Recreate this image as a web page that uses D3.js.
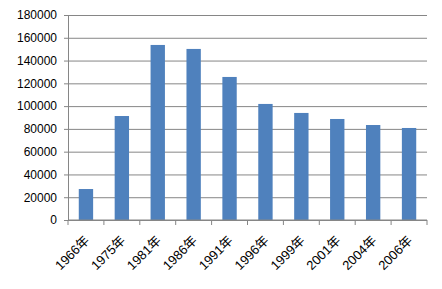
<!DOCTYPE html>
<meta charset="utf-8">
<style>
body { margin: 0; background: #fff; }
text { font-family: "Liberation Sans", "Noto Sans CJK SC", sans-serif; font-size: 12px; fill: #000; }
.xlbl { font-size: 13px; }
.grid line { stroke: #868686; stroke-width: 1; }
.grid .domain { display: none; }
.axis .domain, .axis line { stroke: #868686; }
</style>
<body>
<script src="https://cdn.jsdelivr.net/npm/d3@7/dist/d3.min.js"></script>
<script>
// data
var years = ["1966年", "1975年", "1981年", "1986年", "1991年", "1996年", "1999年", "2001年", "2004年", "2006年"];
var values = [27200, 91300, 153700, 150200, 125600, 101900, 94000, 88700, 83400, 80800];
var yTicks = [0, 20000, 40000, 60000, 80000, 100000, 120000, 140000, 160000, 180000];

var margin = {top: 15, right: 15, bottom: 69, left: 68},
    width = 442 - margin.left - margin.right,
    height = 289 - margin.top - margin.bottom;

var data = years.map(function(d, i) { return {year: d, value: values[i]}; });

var x = d3.scaleBand().domain(years).range([0, width]).paddingInner(0.6).paddingOuter(0.3);
var xb = d3.scaleBand().domain(years).range([0, width]);
var y = d3.scaleLinear().domain([0, 180000]).range([height, 0]);

var svg = d3.select("body").append("svg")
    .attr("width", 442)
    .attr("height", 289)
  .append("g")
    .attr("transform", "translate(" + margin.left + "," + margin.top + ")");

// gridlines
svg.append("g")
    .attr("class", "grid")
    .call(d3.axisLeft(y).tickValues(yTicks).tickSize(-width).tickFormat(""));

svg.selectAll(".bar")
    .data(data)
  .enter().append("rect")
    .attr("class", "bar")
    .attr("x", function(d) { return x(d.year); })
    .attr("width", x.bandwidth())
    .attr("y", function(d) { return y(d.value); })
    .attr("height", function(d) { return height - y(d.value); })
    .style("fill", "#4F81BD");

// y axis
var yAxis = svg.append("g")
    .attr("class", "axis")
    .call(d3.axisLeft(y).tickValues(yTicks).tickSize(4).tickSizeOuter(0).tickPadding(7).tickFormat(d3.format("d")));

// x axis: ticks at band boundaries
var xAxis = svg.append("g")
    .attr("class", "axis")
    .attr("transform", "translate(0," + height + ")");
xAxis.append("line").attr("x1", 0).attr("x2", width).attr("stroke", "#868686");
xAxis.selectAll(".tk")
    .data(d3.range(years.length + 1))
  .enter().append("line")
    .attr("x1", function(i) { return i * xb.step(); })
    .attr("x2", function(i) { return i * xb.step(); })
    .attr("y1", 0).attr("y2", 5)
    .attr("stroke", "#868686");
xAxis.selectAll(".lbl")
    .data(years)
  .enter().append("text")
    .attr("class", "xlbl")
    .attr("text-anchor", "end")
    .attr("transform", function(d) {
      return "translate(" + (xb(d) + xb.bandwidth() / 2 + 1) + ",18)rotate(-45)";
    })
    .attr("dy", "0.35em")
    .text(function(d) { return d; });
</script>
</body>
